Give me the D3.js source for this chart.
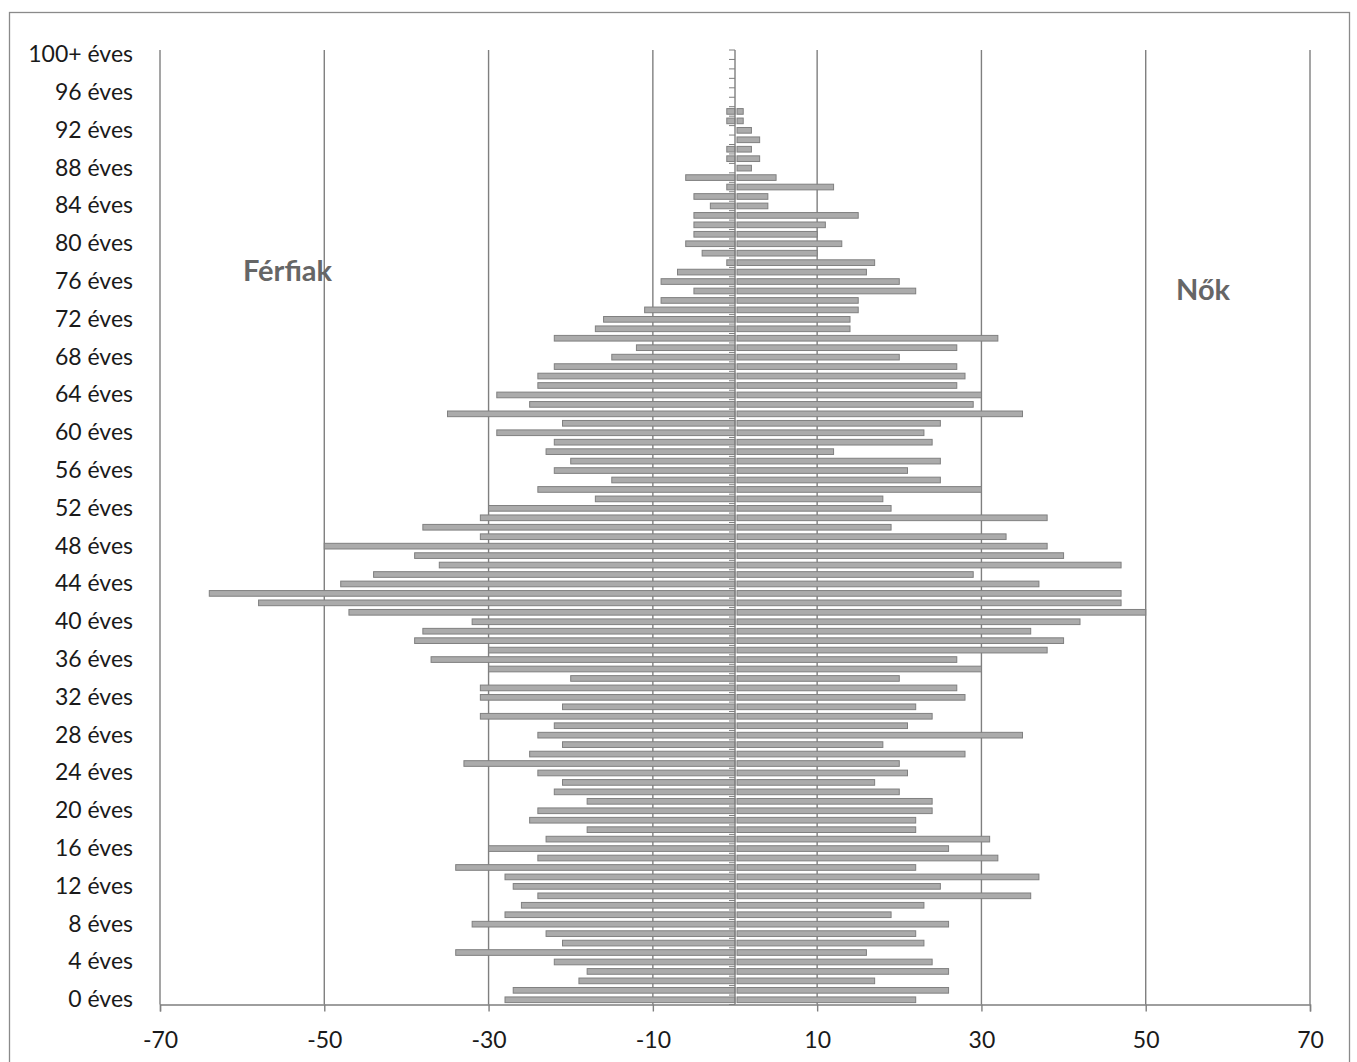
<!DOCTYPE html>
<html>
<head>
<meta charset="utf-8">
<script src="https://cdn.jsdelivr.net/npm/d3@7"></script>
<style>
  body { margin: 0; background: #fff; }
  text { font-family: Lato, "Open Sans", sans-serif; }
</style>
</head>
<body>
<div id="chart"></div>
<script>
// ages 0..100 (100 = "100+")
var ages = d3.range(0, 101);

var male = [
  -28, -27, -19, -18, -22, -34, -21, -23, -32, -28,
  -26, -24, -27, -28, -34, -24, -30, -23, -18, -25,
  -24, -18, -22, -21, -24, -33, -25, -21, -24, -22,
  -31, -21, -31, -31, -20, -30, -37, -30, -39, -38,
  -32, -47, -58, -64, -48, -44, -36, -39, -50, -31,
  -38, -31, -30, -17, -24, -15, -22, -20, -23, -22,
  -29, -21, -35, -25, -29, -24, -24, -22, -15, -12,
  -22, -17, -16, -11, -9, -5, -9, -7, -1, -4,
  -6, -5, -5, -5, -3, -5, -1, -6, 0, -1,
  -1, 0, 0, -1, -1, 0, 0, 0, 0, 0,
  0
];

var female = [
  22, 26, 17, 26, 24, 16, 23, 22, 26, 19,
  23, 36, 25, 37, 22, 32, 26, 31, 22, 22,
  24, 24, 20, 17, 21, 20, 28, 18, 35, 21,
  24, 22, 28, 27, 20, 30, 27, 38, 40, 36,
  42, 50, 47, 47, 37, 29, 47, 40, 38, 33,
  19, 38, 19, 18, 30, 25, 21, 25, 12, 24,
  23, 25, 35, 29, 30, 27, 28, 27, 20, 27,
  32, 14, 14, 15, 15, 22, 20, 16, 17, 10,
  13, 10, 11, 15, 4, 4, 12, 5, 2, 3,
  2, 3, 2, 1, 1, 0, 0, 0, 0, 0,
  0
];

var xTicks = [-70, -50, -30, -10, 10, 30, 50, 70];

function ageLabel(a) {
  return (a === 100 ? "100+" : a) + " éves";
}

var svgWidth = 1357;
var svgHeight = 1062;

var plot = { left: 160, right: 1310, top: 50, bottom: 1004.5 };

var svg = d3.select("#chart")
  .append("svg")
  .attr("width", svgWidth)
  .attr("height", svgHeight);

// outer frame
svg.append("rect")
  .attr("x", 9.5)
  .attr("y", 12.5)
  .attr("width", 1340)
  .attr("height", 1070)
  .attr("fill", "none")
  .attr("stroke", "#8a8a8a")
  .attr("stroke-width", 1.3);

var x = d3.scaleLinear()
  .domain([-70, 70])
  .range([plot.left, plot.right]);

var y = d3.scaleBand()
  .domain(ages.slice().reverse())
  .range([plot.top, plot.bottom])
  .paddingInner(0.4)
  .paddingOuter(0.2);

// vertical gridlines
svg.append("g")
  .selectAll("line")
  .data(xTicks)
  .enter()
  .append("line")
  .attr("x1", d => x(d))
  .attr("x2", d => x(d))
  .attr("y1", plot.top)
  .attr("y2", plot.bottom)
  .attr("stroke", "#7f7f7f")
  .attr("stroke-width", 1.4);

// bottom axis
var bottomAxis = d3.axisBottom(x)
  .tickValues(xTicks)
  .tickFormat(d => String(d))
  .tickSize(7)
  .tickPadding(20);

var xAxis = svg.append("g")
  .attr("transform", `translate(0, ${plot.bottom})`)
  .call(bottomAxis);

xAxis.selectAll("path, line")
  .attr("stroke", "#7f7f7f")
  .attr("stroke-width", 1.4);
xAxis.selectAll("text")
  .attr("font-size", 23)
  .attr("fill", "#1a1a1a")
  .style("font-family", "Lato, 'Open Sans', sans-serif");

// bars
var bars = svg.append("g");

bars.selectAll(".male")
  .data(ages.filter(a => male[a] !== 0))
  .enter()
  .append("rect")
  .attr("class", "male")
  .attr("x", a => x(male[a]))
  .attr("y", a => y(a))
  .attr("width", a => x(0) - x(male[a]))
  .attr("height", y.bandwidth())
  .attr("fill", "#ababab")
  .attr("stroke", "#808080")
  .attr("stroke-width", 1);

bars.selectAll(".female")
  .data(ages.filter(a => female[a] !== 0))
  .enter()
  .append("rect")
  .attr("class", "female")
  .attr("x", x(0) + 2)
  .attr("y", a => y(a))
  .attr("width", a => x(female[a]) - x(0) - 2)
  .attr("height", y.bandwidth())
  .attr("fill", "#ababab")
  .attr("stroke", "#808080")
  .attr("stroke-width", 1);

// category axis at zero, ticks between categories
var step = y.step();
var boundaries = d3.range(ages.length + 1).map(i => y(100) - y.paddingInner() * step / 2 + i * step);

var zeroAxis = svg.append("g");
zeroAxis.append("line")
  .attr("x1", x(0))
  .attr("x2", x(0))
  .attr("y1", plot.top)
  .attr("y2", plot.bottom)
  .attr("stroke", "#7f7f7f")
  .attr("stroke-width", 1.4);

zeroAxis.selectAll(".tick")
  .data(boundaries)
  .enter()
  .append("line")
  .attr("x1", x(0) - 6)
  .attr("x2", x(0))
  .attr("y1", d => d)
  .attr("y2", d => d)
  .attr("stroke", "#7f7f7f")
  .attr("stroke-width", 1);

// category labels on the left
var leftAxis = d3.axisLeft(y)
  .tickValues(ages.filter(a => a % 4 === 0 || a === 100))
  .tickFormat(ageLabel)
  .tickSize(0)
  .tickPadding(27);

var yAxis = svg.append("g")
  .attr("transform", `translate(${plot.left}, 0)`)
  .call(leftAxis);

yAxis.select(".domain").remove();
yAxis.selectAll("text")
  .attr("font-size", 23)
  .attr("fill", "#1a1a1a")
  .style("font-family", "Lato, 'Open Sans', sans-serif");

// side titles
svg.append("text")
  .attr("x", 243)
  .attr("y", 281)
  .attr("font-size", 29)
  .attr("font-weight", "bold")
  .attr("fill", "#666")
  .text("Férfiak");

svg.append("text")
  .attr("x", 1176)
  .attr("y", 300)
  .attr("font-size", 29)
  .attr("font-weight", "bold")
  .attr("fill", "#666")
  .text("Nők");
</script>
</body>
</html>
